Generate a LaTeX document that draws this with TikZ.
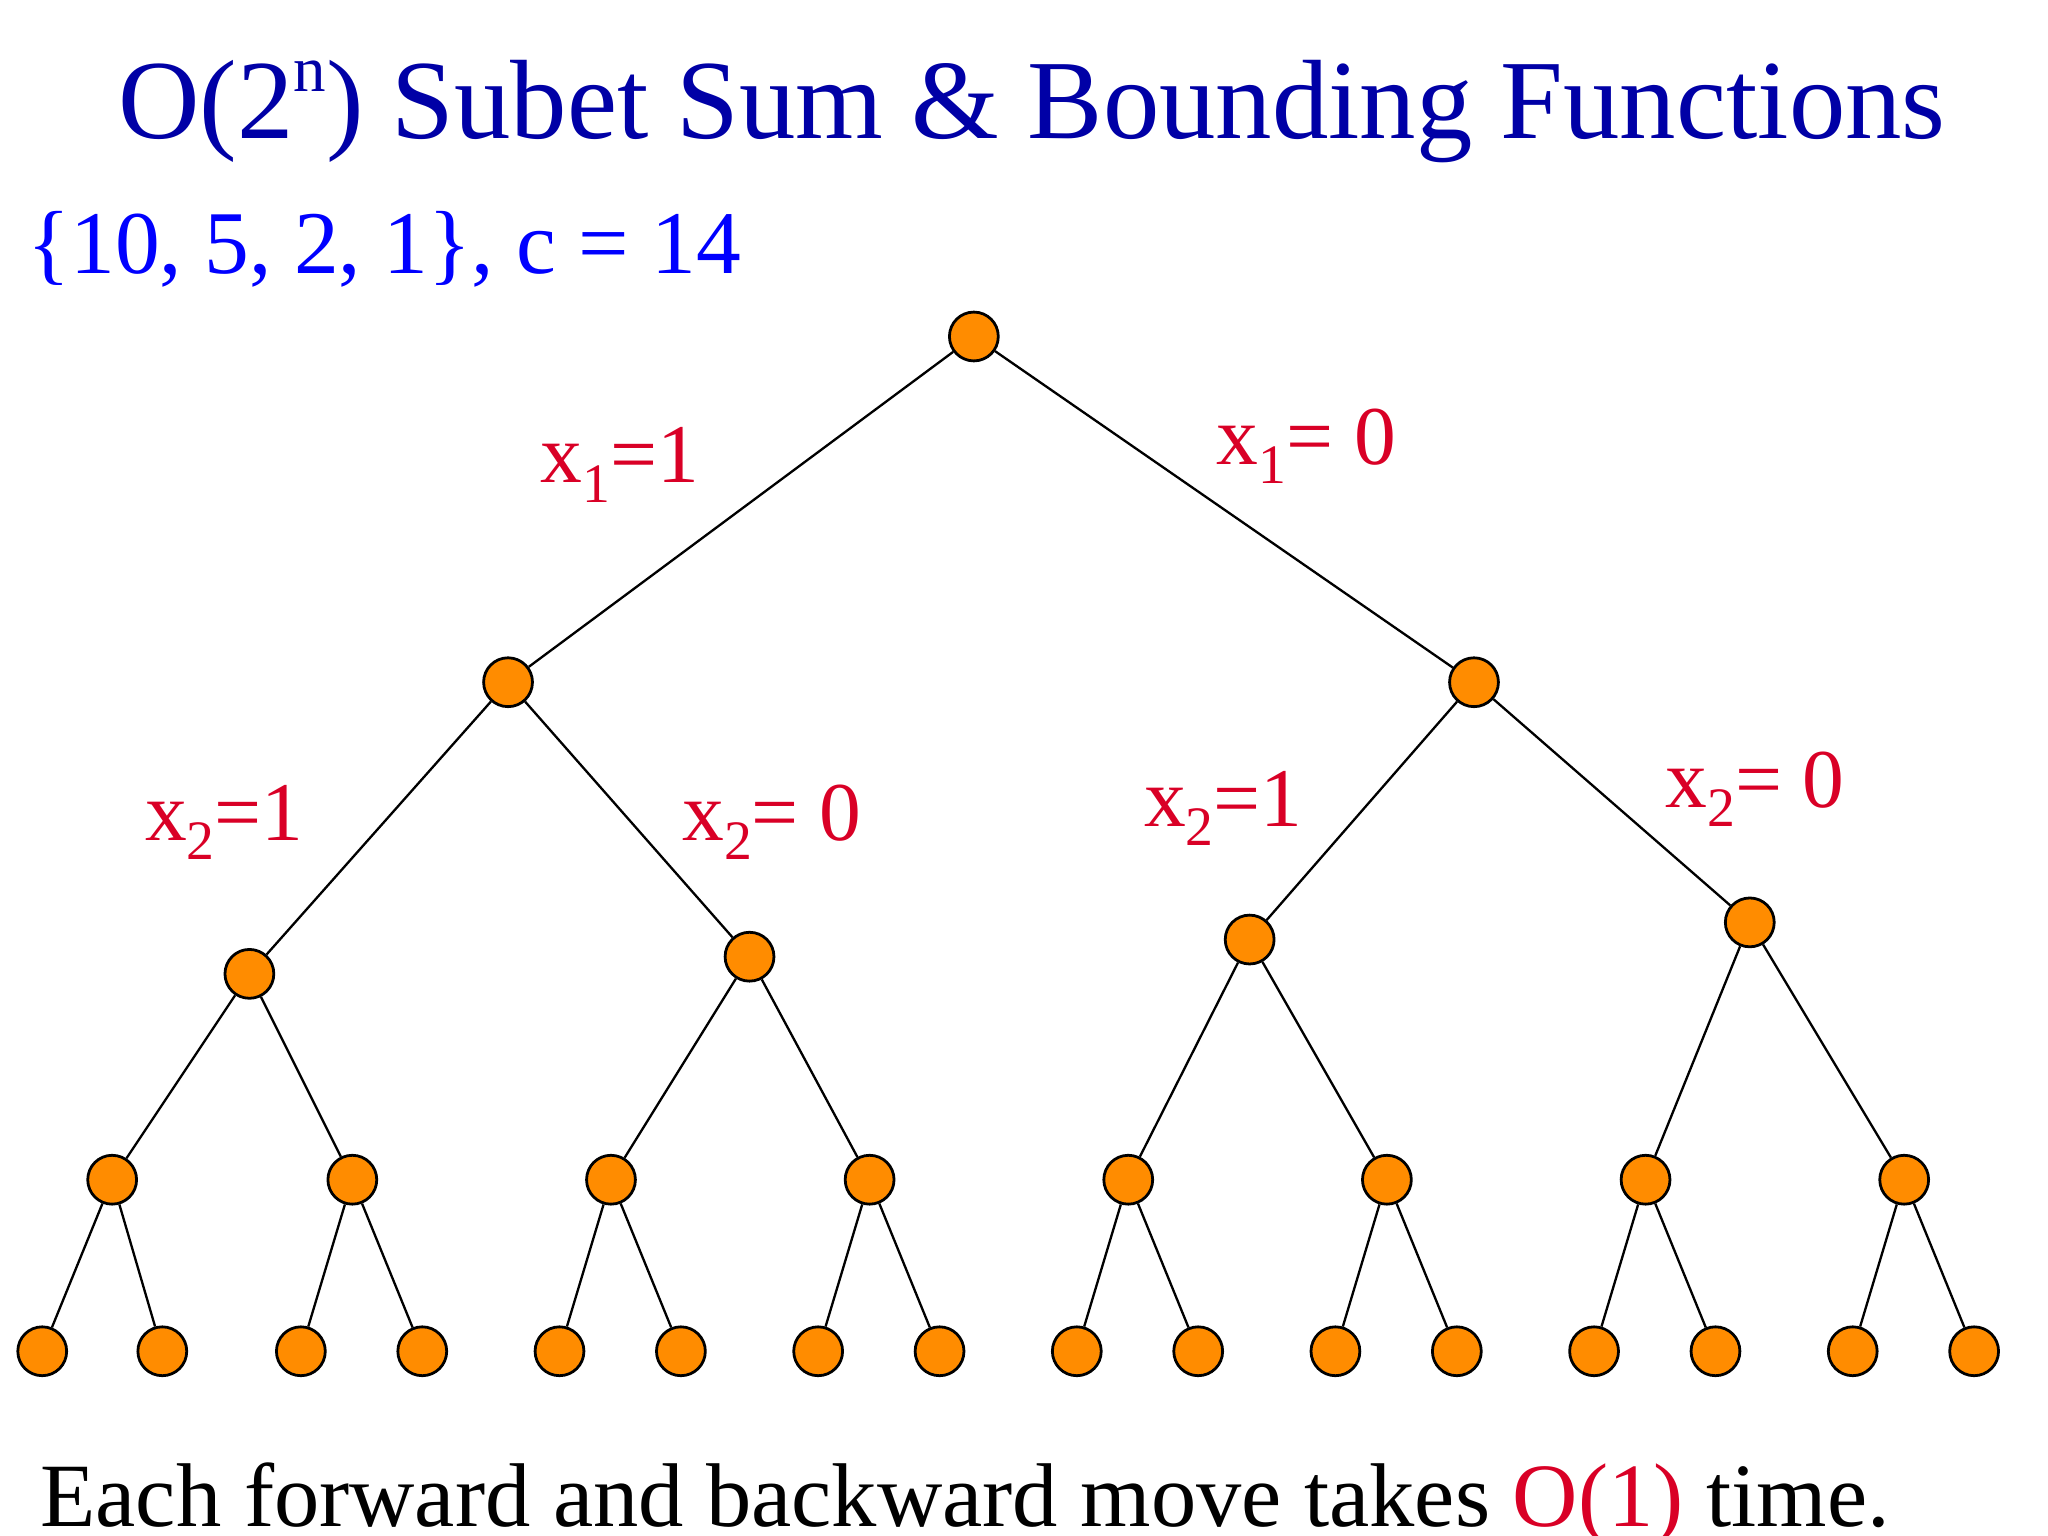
\documentclass[tikz,border=0pt]{standalone}
\usepackage{fontspec}
\setmainfont{Liberation Serif}
\newcommand{\sbx}[1]{\raisebox{-0.5ex}{\fontsize{12pt}{12pt}\selectfont #1}}
\begin{document}
\begin{tikzpicture}[x=0.01cm,y=-0.01cm,
  nd/.style={circle,draw=black,fill=orange!90!yellow,line width=0.6pt,minimum size=0.37cm,inner sep=0pt},
  lbl/.style={text=red!85!blue,font=\fontsize{18pt}{22pt}\selectfont,anchor=base,inner sep=0pt},
  ed/.style={draw=black,line width=0.5pt}]
\useasboundingbox (0,0) rectangle (1552,1164);
\node[anchor=base,text=blue!65!black,font=\fontsize{24.3pt}{30pt}\selectfont,inner sep=0pt] (title) at (782,105) {O(2\raisebox{0.9ex}{\fontsize{14pt}{14pt}\selectfont n}) Subet Sum \& Bounding Functions};
\node[anchor=base west,text=blue,font=\fontsize{19.3pt}{24pt}\selectfont,inner sep=0pt] (set) at (20,207) {\{10, 5, 2, 1\}, c = 14};
\node[anchor=base west,font=\fontsize{19.5pt}{24pt}\selectfont,inner sep=0pt] (foot) at (30,1157) {Each forward and backward move takes \textcolor{red!85!blue}{O(1)} time.};
\node[nd] (r) at (738,255) {};
\node[nd] (a) at (385,517) {};
\node[nd] (b) at (1117,517) {};
\node[nd] (c1) at (189,738) {};
\node[nd] (c2) at (568,725) {};
\node[nd] (c3) at (947,712) {};
\node[nd] (c4) at (1326,699) {};
\foreach \i/\x in {1/85,2/267,3/463,4/659,5/855,6/1051,7/1247,8/1443}
  \node[nd] (d\i) at (\x,894) {};
\foreach \i/\x in {1/32,2/123,3/228,4/320,5/424,6/516,7/620,8/712,9/816,10/908,11/1012,12/1104,13/1208,14/1300,15/1404,16/1496}
  \node[nd] (e\i) at (\x,1024) {};
\draw[ed] (r)--(a); \draw[ed] (r)--(b);
\draw[ed] (a)--(c1); \draw[ed] (a)--(c2); \draw[ed] (b)--(c3); \draw[ed] (b)--(c4);
\draw[ed] (c1)--(d1); \draw[ed] (c1)--(d2); \draw[ed] (c2)--(d3); \draw[ed] (c2)--(d4);
\draw[ed] (c3)--(d5); \draw[ed] (c3)--(d6); \draw[ed] (c4)--(d7); \draw[ed] (c4)--(d8);
\foreach \i in {1,...,8}{
  \pgfmathtruncatemacro{\l}{2*\i-1}\pgfmathtruncatemacro{\m}{2*\i}
  \draw[ed] (d\i)--(e\l); \draw[ed] (d\i)--(e\m);}
\node[lbl] (l1) at (470,366) {x\sbx{1}=1};
\node[lbl] (l2) at (990,352) {x\sbx{1}= 0};
\node[lbl] (l3) at (170,637) {x\sbx{2}=1};
\node[lbl] (l4) at (585,637) {x\sbx{2}= 0};
\node[lbl] (l5) at (927,626) {x\sbx{2}=1};
\node[lbl] (l6) at (1330,612) {x\sbx{2}= 0};
\end{tikzpicture}
\end{document}
